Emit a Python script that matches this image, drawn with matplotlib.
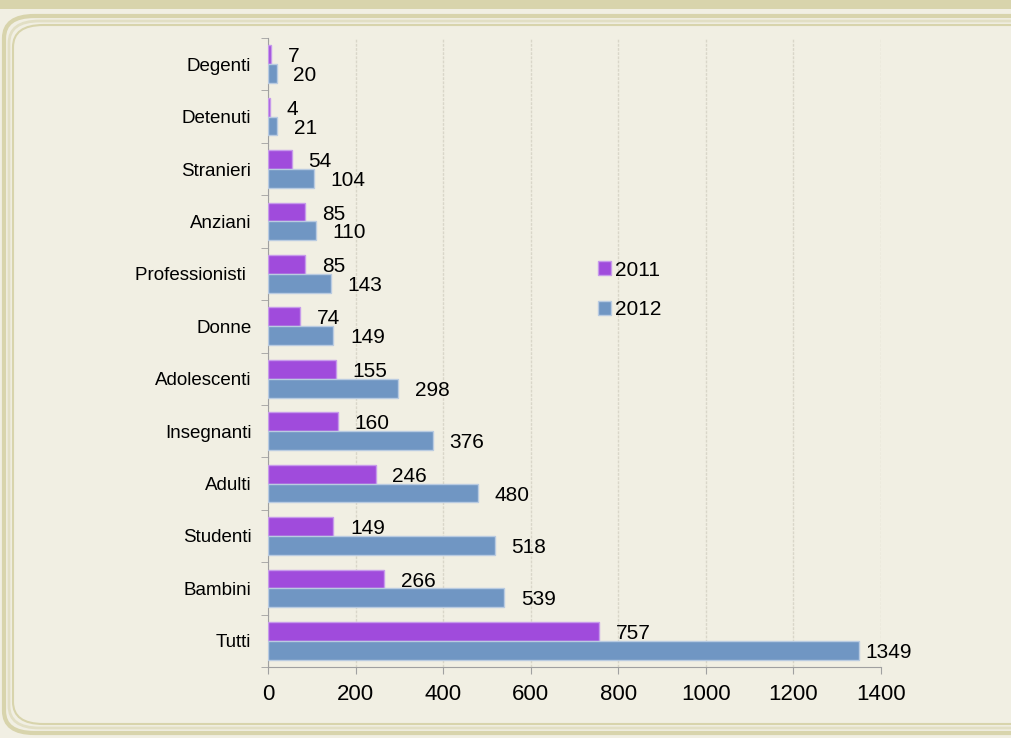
import matplotlib
matplotlib.use("Agg")
import matplotlib.pyplot as plt
from matplotlib.patches import FancyBboxPatch, Rectangle
import numpy as np

plt.rcParams['font.family'] = ['Liberation Sans', 'DejaVu Sans']

# data (bottom to top)
categories = ['Tutti', 'Bambini', 'Studenti', 'Adulti', 'Insegnanti', 'Adolescenti',
              'Donne', 'Professionisti ', 'Anziani', 'Stranieri', 'Detenuti', 'Degenti']
vals_2011 = [757, 266, 149, 246, 160, 155, 74, 85, 85, 54, 4, 7]
vals_2012 = [1349, 539, 518, 480, 376, 298, 149, 143, 110, 104, 21, 20]
xticks = [0, 200, 400, 600, 800, 1000, 1200, 1400]

bg = '#F1EFE3'
khaki = '#D8D4AC'
purple = '#A04BDC'
blue = '#7096C3'

fig = plt.figure(figsize=(10.12, 7.38), dpi=100, facecolor=bg)

# frame decoration
fig.patches.append(Rectangle((0, 1 - 9 / 738), 1, 9 / 738, transform=fig.transFigure,
                             facecolor=khaki, edgecolor='none', zorder=0))
for off, lw, col in [(4, 3, khaki), (9, 2, '#E2DFC4'), (13, 1.5, khaki)]:
    fig.patches.append(FancyBboxPatch((off / 1012, (738 - 733 + off - 4) / 738),
                                      (1012 + 40) / 1012, (738 - 12 - off - (738 - 733 + off - 4)) / 738,
                                      boxstyle='round,pad=0,rounding_size=0.03',
                                      transform=fig.transFigure, facecolor='none',
                                      edgecolor=col, linewidth=lw, zorder=0))

ax = fig.add_axes([268 / 1012, 1 - 667 / 738, 613 / 1012, 629 / 738])
ax.set_facecolor('none')

y = np.arange(len(categories))
h = 0.36
ax.barh(y + h / 2, vals_2011, height=h, color=purple, edgecolor='#C79AEB', linewidth=1, label='2011', zorder=3)
ax.barh(y - h / 2, vals_2012, height=h, color=blue, edgecolor='#B9CBE1', linewidth=1, label='2012', zorder=3)

for yi, v in zip(y + h / 2, vals_2011):
    ax.annotate(str(v), (v, yi), xytext=(12, -1.5), textcoords='offset points',
                ha='left', va='center', fontsize=15, color='black')
for yi, v in zip(y - h / 2, vals_2012):
    # label of the longest bar is pulled in to stay inside the chart area
    dx = 5 if v == max(vals_2012) else 12
    ax.annotate(str(v), (v, yi), xytext=(dx, -1.5), textcoords='offset points',
                ha='left', va='center', fontsize=15, color='black')

ax.set_xlim(0, 1400)
ax.set_ylim(-0.5, len(categories) - 0.5)
ax.set_xticks(xticks)
ax.set_xticklabels([str(t) for t in xticks], fontsize=16)
ax.set_yticks(y)
ax.set_yticklabels(categories, fontsize=13.5)
ax.set_yticks(np.arange(-0.5, len(categories)), minor=True)
ax.tick_params(axis='y', which='major', length=0, pad=12)
ax.tick_params(axis='y', which='minor', length=5, color='#A0A0A0', direction='out')
ax.tick_params(axis='x', length=5, color='#A0A0A0', direction='out', pad=7)

ax.xaxis.grid(True, color='#D9D6C9', linewidth=1, linestyle=(0, (2, 1)), zorder=0)
ax.set_axisbelow(True)
for s in ['top', 'right']:
    ax.spines[s].set_visible(False)
for s in ['left', 'bottom']:
    ax.spines[s].set_color('#A0A0A0')

ax.legend(loc='center left', bbox_to_anchor=(579 / 1012, 1 - 290 / 738),
          bbox_transform=fig.transFigure, frameon=False, fontsize=15,
          handlelength=0.65, handleheight=0.65, handletextpad=0.2, labelspacing=1.0)

fig.savefig('out.png', dpi=100, facecolor=bg)
